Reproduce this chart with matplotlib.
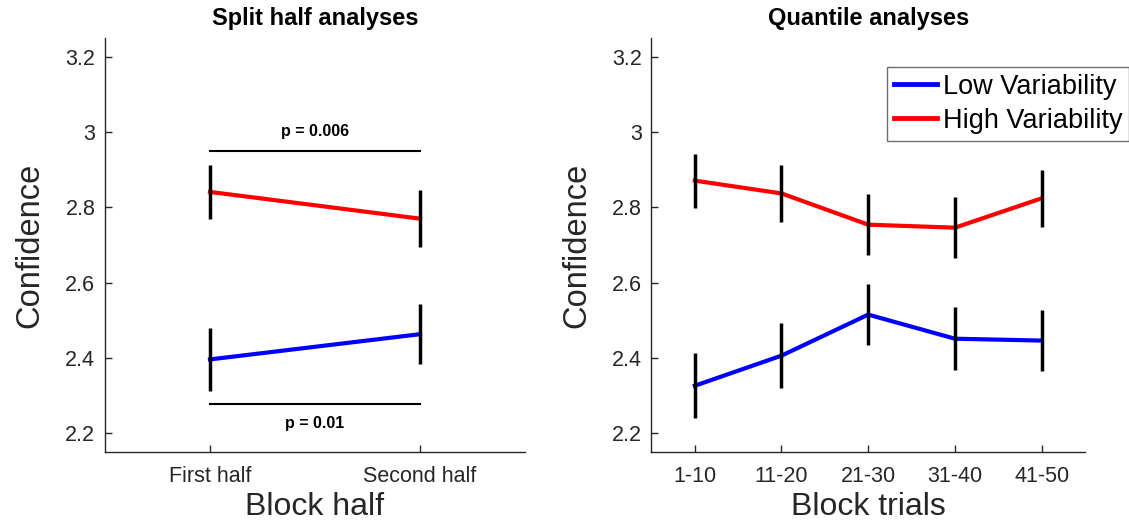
#! /usr/bin/env python3
"""
Confidence by block half / block trials, low vs high variability
"""

import matplotlib
matplotlib.use('Agg')
import matplotlib.pyplot as plt

# split half panel
half_labels = ['First half', 'Second half']
half_low = [2.396, 2.463]
half_low_err = [0.083, 0.079]
half_high = [2.841, 2.770]
half_high_err = [0.071, 0.076]
p_high = 'p = 0.006'
p_low = 'p = 0.01'
bracket_high = 2.951
bracket_low = 2.277

# quantile panel
quant_labels = ['1-10', '11-20', '21-30', '31-40', '41-50']
quant_low = [2.326, 2.406, 2.515, 2.451, 2.446]
quant_low_err = [0.087, 0.087, 0.082, 0.083, 0.082]
quant_high = [2.871, 2.837, 2.754, 2.746, 2.824]
quant_high_err = [0.072, 0.075, 0.081, 0.081, 0.076]

GREY = '#262626'


def style_axes(ax, labels, xlabel, title):
    n = len(labels)
    ax.set_xlim(0.5, n + 0.5)
    ax.set_ylim(2.15, 3.25)
    ax.set_xticks(range(1, n + 1))
    ax.set_xticklabels(labels)
    ax.set_yticks([2.2, 2.4, 2.6, 2.8, 3.0, 3.2])
    ax.set_yticklabels(['2.2', '2.4', '2.6', '2.8', '3', '3.2'])
    ax.spines['top'].set_visible(False)
    ax.spines['right'].set_visible(False)
    for s in ('left', 'bottom'):
        ax.spines[s].set_color(GREY)
        ax.spines[s].set_linewidth(1.0)
    ax.tick_params(direction='in', length=5, width=1.0, colors=GREY,
                   labelsize=15.5)
    ax.tick_params(axis='x', pad=10)
    ax.tick_params(axis='y', pad=7)
    ax.set_xlabel(xlabel, fontsize=23, color=GREY, labelpad=4)
    ax.set_ylabel('Confidence', fontsize=23.5, color=GREY, labelpad=14)
    ax.set_title(title, fontsize=17, fontweight='bold', pad=9)


def draw_series(ax, y, yerr, color, label):
    x = list(range(1, len(y) + 1))
    ax.plot(x, y, color=color, lw=3, label=label, zorder=2)
    ax.errorbar(x, y, yerr=yerr, fmt='none', ecolor='k', elinewidth=2.5,
                capsize=0, zorder=3)


def main():
    plt.rcParams['font.family'] = ['Liberation Sans', 'DejaVu Sans']
    fig = plt.figure(figsize=(11.29, 5.26), dpi=100)
    ax1 = fig.add_axes([0.093, 0.1407, 0.372, 0.7871])
    ax2 = fig.add_axes([0.577, 0.1407, 0.384, 0.7871])

    draw_series(ax1, half_low, half_low_err, 'blue', 'Low Variability')
    draw_series(ax1, half_high, half_high_err, 'red', 'High Variability')
    ax1.plot([1, 2], [bracket_high, bracket_high], color='k', lw=1.5)
    ax1.plot([1, 2], [bracket_low, bracket_low], color='k', lw=1.5)
    ax1.text(1.5, 2.989, p_high, ha='center', va='baseline',
             fontsize=11.5, fontweight='bold')
    ax1.text(1.5, 2.214, p_low, ha='center', va='baseline',
             fontsize=11.5, fontweight='bold')
    style_axes(ax1, half_labels, 'Block half', 'Split half analyses')

    draw_series(ax2, quant_low, quant_low_err, 'blue', 'Low Variability')
    draw_series(ax2, quant_high, quant_high_err, 'red', 'High Variability')
    style_axes(ax2, quant_labels, 'Block trials', 'Quantile analyses')

    leg = ax2.legend(loc='upper right', bbox_to_anchor=(1.0, 0.8726),
                     bbox_transform=fig.transFigure, fontsize=19.5,
                     fancybox=False, framealpha=1, edgecolor='#6e6e6e',
                     handlelength=1.6, handletextpad=0.2, borderpad=0.25,
                     labelspacing=0.3, borderaxespad=0)
    leg.get_frame().set_linewidth(1.0)
    for line in leg.get_lines():
        line.set_linewidth(3.5)

    fig.savefig('out.png', dpi=100)


if __name__ == '__main__':
    main()
